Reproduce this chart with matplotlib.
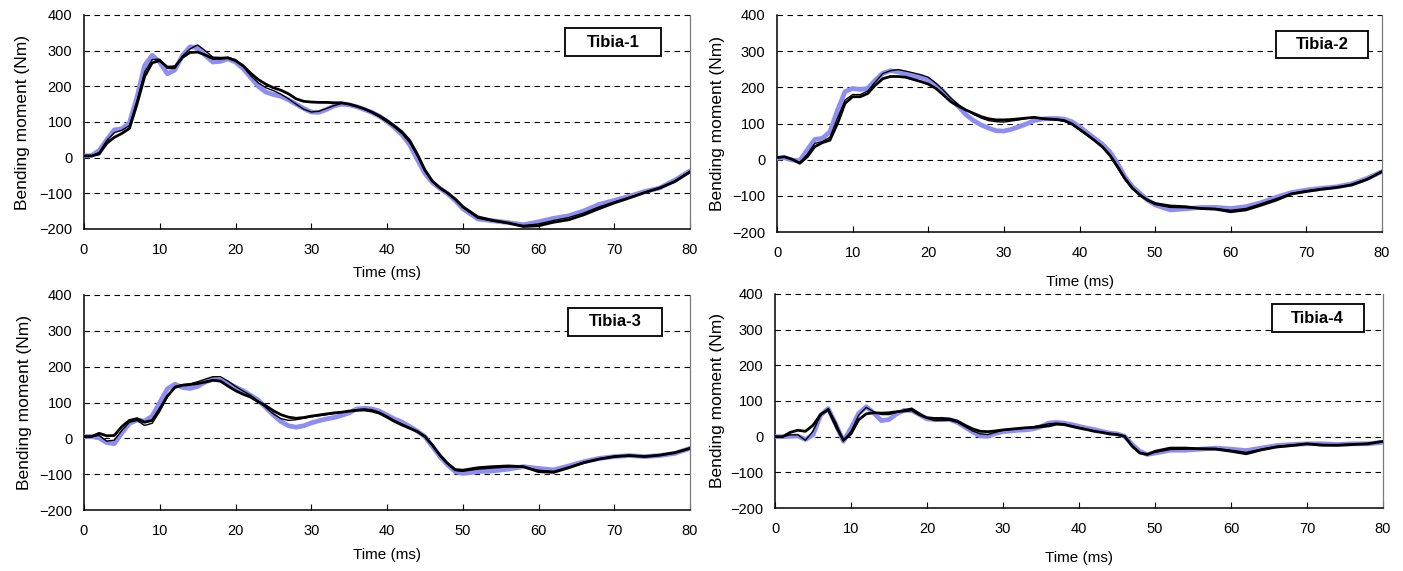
import matplotlib
matplotlib.use("Agg")
import matplotlib.pyplot as plt
from matplotlib.patches import Rectangle

plt.rcParams['font.family'] = ['Liberation Sans', 'DejaVu Sans']

# ---------------- data ----------------
time_ms = list(range(0, 51)) + list(range(52, 81, 2))

# Tibia-1
t1_blue = [5, 6, 20, 50, 78, 81, 98, 170, 258, 287, 268, 235, 246, 287, 311, 308, 287, 268, 270, 277,
           268, 250, 225, 200, 184, 177, 172, 162, 150, 138, 128, 127, 135, 145, 150, 148, 143, 135, 127, 116,
           102, 84, 64, 36, -5, -44, -70, -86, -101, -120, -143,
           -172, -177, -182, -188, -180, -170, -163, -149, -131, -120, -108, -95, -85, -63, -37]
t1_black_a = [5, 5, 10, 40, 57, 68, 82, 150, 227, 266, 272, 254, 255, 281, 295, 296, 288, 278, 278, 280,
              272, 258, 237, 219, 206, 196, 189, 179, 165, 158, 156, 155, 155, 154, 154, 150, 144, 137, 128, 117,
              104, 89, 72, 48, 10, -34, -66, -85, -99, -116, -137,
              -166, -176, -183, -193, -191, -181, -174, -160, -143, -127, -113, -98, -85, -67, -40]
t1_black_b = [5, 5, 15, 48, 70, 77, 90, 160, 240, 275, 276, 250, 250, 285, 305, 316, 300, 282, 281, 281,
              275, 255, 230, 210, 196, 188, 178, 165, 150, 136, 128, 130, 138, 146, 152, 151, 145, 136, 126, 114,
              100, 85, 67, 42, 5, -38, -68, -85, -100, -118, -140,
              -170, -178, -184, -190, -186, -176, -168, -155, -138, -124, -111, -97, -86, -65, -38]

# Tibia-2
t2_blue = [4, 5, -1, -3, 27, 56, 59, 77, 137, 188, 197, 194, 197, 220, 239, 246, 243, 237, 231, 228,
           220, 206, 188, 165, 147, 124, 108, 96, 87, 80, 79, 84, 91, 99, 108, 112, 114, 114, 112, 105,
           91, 75, 59, 43, 22, -9, -47, -75, -93, -112, -125,
           -139, -136, -132, -132, -135, -130, -119, -104, -91, -84, -79, -75, -67, -52, -33]
t2_black_a = [6, 8, 1, -10, 8, 36, 47, 54, 100, 156, 174, 174, 183, 206, 224, 230, 230, 228, 222, 216,
              209, 197, 179, 160, 148, 137, 128, 119, 113, 110, 110, 111, 113, 115, 117, 114, 112, 111, 108, 99,
              84, 69, 53, 36, 13, -18, -52, -79, -98, -112, -121,
              -128, -130, -135, -137, -144, -139, -126, -112, -95, -88, -82, -77, -70, -55, -33]
t2_black_b = [6, 7, 2, -8, 15, 45, 50, 62, 115, 165, 180, 180, 190, 215, 238, 246, 249, 245, 240, 235,
              228, 212, 192, 170, 152, 138, 125, 115, 108, 105, 104, 107, 110, 114, 117, 114, 112, 110, 106, 97,
              82, 67, 52, 35, 10, -22, -55, -80, -97, -113, -124,
              -132, -133, -134, -135, -140, -135, -122, -108, -93, -86, -80, -76, -68, -53, -33]

# Tibia-3
t3_blue = [5, 5, 1, -12, -15, 15, 42, 51, 48, 62, 100, 138, 151, 142, 139, 145, 157, 165, 162, 154,
           143, 133, 120, 107, 86, 65, 47, 35, 31, 35, 43, 49, 54, 58, 64, 71, 82, 84, 82, 76,
           65, 54, 45, 33, 20, 5, -23, -51, -74, -93, -98,
           -93, -91, -86, -79, -84, -88, -77, -65, -56, -51, -48, -51, -48, -42, -28]
t3_black_a = [5, 5, 14, 7, 8, 33, 50, 55, 45, 50, 82, 118, 142, 148, 150, 153, 157, 162, 160, 146,
              133, 123, 115, 102, 91, 77, 66, 59, 56, 58, 62, 65, 68, 71, 73, 76, 78, 79, 76, 70,
              59, 47, 37, 28, 19, 5, -19, -47, -70, -87, -89,
              -82, -79, -77, -79, -93, -95, -82, -68, -58, -51, -48, -51, -47, -40, -28]
t3_black_b = [5, 5, 8, -8, -5, 22, 45, 50, 36, 42, 75, 115, 145, 150, 152, 158, 165, 172, 172, 160,
              145, 132, 120, 104, 86, 68, 55, 50, 52, 56, 60, 63, 66, 69, 72, 76, 80, 82, 80, 73,
              62, 50, 40, 30, 20, 6, -20, -49, -72, -90, -92,
              -86, -83, -80, -80, -89, -92, -80, -66, -57, -50, -48, -50, -46, -40, -27]

# Tibia-4
t4_blue = [0, 0, 1, 2, -8, 5, 60, 79, 35, -13, 24, 65, 84, 66, 45, 48, 64, 74, 73, 62,
           50, 48, 49, 48, 40, 27, 13, 2, 1, 9, 14, 16, 18, 19, 22, 28, 38, 40, 38, 34,
           29, 24, 20, 15, 10, 8, 1, -22, -41, -50, -46,
           -38, -38, -35, -32, -35, -39, -32, -25, -22, -20, -20, -22, -20, -20, -16]
t4_black_a = [0, 0, 12, 18, 15, 32, 62, 76, 30, -10, 8, 47, 64, 67, 66, 67, 70, 72, 75, 62,
              53, 51, 51, 49, 44, 32, 22, 15, 14, 16, 19, 21, 23, 25, 26, 28, 30, 35, 34, 29,
              24, 20, 15, 12, 8, 6, 1, -27, -46, -50, -41,
              -32, -32, -34, -35, -41, -48, -37, -29, -25, -20, -24, -24, -22, -20, -13]
t4_black_b = [0, 0, 5, 5, -10, 15, 60, 78, 40, -12, 15, 60, 82, 70, 62, 62, 68, 75, 80, 66,
              52, 45, 45, 46, 40, 28, 16, 8, 6, 12, 18, 20, 22, 24, 28, 32, 36, 38, 36, 31,
              26, 21, 16, 12, 9, 7, 0, -25, -44, -50, -44,
              -36, -35, -33, -33, -38, -44, -35, -27, -23, -20, -22, -23, -21, -19, -14]

panel_names = ["Tibia-1", "Tibia-2", "Tibia-3", "Tibia-4"]
blue_series = [t1_blue, t2_blue, t3_blue, t4_blue]
black_a_series = [t1_black_a, t2_black_a, t3_black_a, t4_black_a]
black_b_series = [t1_black_b, t2_black_b, t3_black_b, t4_black_b]

x_ticks = [0, 10, 20, 30, 40, 50, 60, 70, 80]
y_ticks = [-200, -100, 0, 100, 200, 300, 400]

# ---------------- layout ----------------
W, H = 1403, 571
# (left, top, right, bottom) in pixels
axes_px = [(84, 15, 690, 229), (777, 15, 1382, 232), (84, 295, 690, 510), (775, 294, 1383, 508)]
box_frac = [(0.794, 0.808, 0.952, 0.939), (0.825, 0.802, 0.977, 0.926),
            (0.798, 0.810, 0.954, 0.940), (0.817, 0.822, 0.968, 0.953)]
xlabel_px = [273, 282, 555, 558]
ylabel_px = [23, 717, 25, 717]

fig = plt.figure(figsize=(W / 100, H / 100), dpi=100)
blue_col = '#8E8EF2'

for i in range(4):
    l, t, r, b = axes_px[i]
    ax = fig.add_axes([l / W, 1 - b / H, (r - l) / W, (b - t) / H])
    ax.plot(time_ms, blue_series[i], color=blue_col, lw=3.4, zorder=3,
            solid_capstyle='round', solid_joinstyle='round')
    ax.plot(time_ms, black_b_series[i], color='black', lw=1.0, zorder=4, solid_joinstyle='round')
    ax.plot(time_ms, black_a_series[i], color='black', lw=2.0, zorder=4, solid_joinstyle='round')

    ax.set_xlim(0, 80)
    ax.set_ylim(-200, 400)
    ax.set_xticks(x_ticks)
    ax.set_yticks(y_ticks)
    for yv in [-100, 0, 100, 200, 300, 400]:
        ax.axhline(yv, color='black', lw=0.8, ls=(0, (5, 4)), zorder=1, clip_on=False)

    ax.spines['top'].set_visible(False)
    ax.spines['right'].set_color('#7a7a7a')
    ax.spines['right'].set_linewidth(0.9)
    ax.spines['left'].set_linewidth(1.1)
    ax.spines['bottom'].set_linewidth(1.1)

    ax.tick_params(axis='x', direction='in', length=4, width=0.8, pad=10, labelsize=10.5)
    ax.tick_params(axis='y', direction='in', length=0, pad=8.5, labelsize=10.5)

    cx = (l + r) / 2
    fig.text(cx / W, 1 - xlabel_px[i] / H, "Time (ms)", ha='center', va='center', fontsize=11)
    fig.text(ylabel_px[i] / W, 1 - ((t + b) / 2) / H, "Bending moment (Nm)", ha='center', va='center',
             rotation=90, fontsize=12.5)

    bx0, by0, bx1, by1 = box_frac[i]
    ax.add_patch(Rectangle((bx0, by0), bx1 - bx0, by1 - by0, transform=ax.transAxes,
                           facecolor='white', edgecolor='black', lw=1.3, zorder=6, clip_on=False))
    ax.text((bx0 + bx1) / 2, (by0 + by1) / 2, panel_names[i], transform=ax.transAxes,
            ha='center', va='center', fontsize=12, fontweight='bold', zorder=7)

fig.savefig("out.png", dpi=100)
